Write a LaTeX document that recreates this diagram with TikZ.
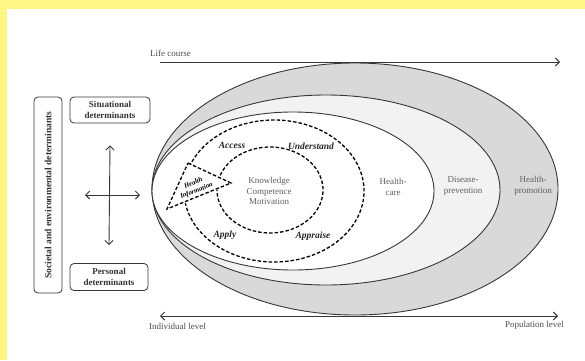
\documentclass[tikz,border=0pt]{standalone}
\usepackage{fontspec}
\setmainfont{Liberation Serif}
\usetikzlibrary{arrows.meta,positioning,calc}
\definecolor{pagebg}{RGB}{255,246,133}
\definecolor{promo}{RGB}{217,217,217}
\definecolor{prev}{RGB}{242,242,242}
\definecolor{edge}{RGB}{55,55,55}
\definecolor{txtgrey}{RGB}{95,95,95}
\tikzset{
	detbox/.style = {draw=edge, fill=white, rounded corners=4pt, line width=0.8pt, align=center, text=black!80, font=\fontsize{9}{10.5}\selectfont\bfseries, inner sep=1pt},
	zone/.style = {draw=edge, line width=0.9pt},
	cycleline/.style = {draw=black, line width=1.3pt, dash pattern=on 3.5pt off 2pt},
	act/.style = {font=\fontsize{9.5}{11}\selectfont\bfseries\itshape, text=black!85},
	lvl/.style = {font=\fontsize{9}{10.5}\selectfont, text=txtgrey, align=center},
	axislabel/.style = {font=\fontsize{9}{10.5}\selectfont, text=black!70, inner sep=0pt},
	axis/.style = {draw=edge, line width=0.9pt}
}

\begin{document}
\begin{tikzpicture}[x=1pt,y=1pt,>={Straight Barb[length=4pt,width=8pt]}]
	\fill[pagebg] (0,0) rectangle (585,360);
	\fill[white] (7,0) rectangle (585,351);
	\useasboundingbox (0,0) rectangle (585,360);

	% nested zones
	\path[zone, fill=promo] (355,171) ellipse [x radius=203, y radius=126];
	\path[zone, fill=prev] (326,170) ellipse [x radius=174, y radius=95];
	\path[zone, fill=white] (293,169) ellipse [x radius=141, y radius=79];

	% health literacy cycle
	\draw[cycleline] (274,169) ++(160:90 and 71) arc [start angle=160, end angle=-170, x radius=90, y radius=71];
	\draw[cycleline] (270,170) ++(160:53 and 43) arc [start angle=160, end angle=-180, x radius=53, y radius=43];
	\draw[cycleline, fill=white] (188,197) -- (231,177) -- (167,151) -- cycle;

	\node[lvl] (care) at (393,173) {Health-\\care};
	\node[lvl] (prevention) at (463,174) {Disease-\\prevention};
	\node[lvl] (promotion) at (533,174) {Health-\\promotion};
	\node[lvl] (core) at (269,169) {Knowledge\\Competence\\Motivation};

	\node[act] (access) at (232,215) {Access};
	\node[act] (understand) at (311,214) {Understand};
	\node[act] (apply) at (225,125) {Apply};
	\node[act] (appraise) at (313,124) {Appraise};
	\node[font=\fontsize{6.8}{8.6}\selectfont\bfseries\itshape, rotate=22, align=center, inner sep=0pt] (info) at (195,173) {Health\\Information};

	% axes
	\coordinate (life start) at (160,298);
	\coordinate (life end) at (560,298);
	\draw[axis,->] (life start) -- (life end);
	\node[axislabel, anchor=west] (life) at (150,307) {Life course};

	\coordinate (indiv end) at (160,44);
	\coordinate (pop end) at (558,44);
	\draw[axis,<->] (indiv end) -- (pop end);
	\node[axislabel, anchor=west] (indiv) at (149,34) {Individual level};
	\node[axislabel, anchor=east] (pop) at (564,35) {Population level};

	% determinants
	\node[detbox, rotate=90, minimum width=196pt, minimum height=28pt, font=\fontsize{9.5}{11}\selectfont\bfseries] (societal) at (48,165) {Societal and environmental determinants};
	\node[detbox, minimum width=80pt, minimum height=26pt] (situational) at (110,250) {Situational\\determinants};
	\node[detbox, minimum width=78pt, minimum height=27pt] (personal) at (109,83) {Personal\\determinants};

	\coordinate[below=22pt of situational] (up);
	\coordinate[above=18pt of personal] (down);
	\coordinate (left) at (85,165);
	\coordinate (right) at (140,165);
	\draw[axis,<->] (up) -- (down);
	\draw[axis,<->] (left) -- (right);
\end{tikzpicture}
\end{document}
